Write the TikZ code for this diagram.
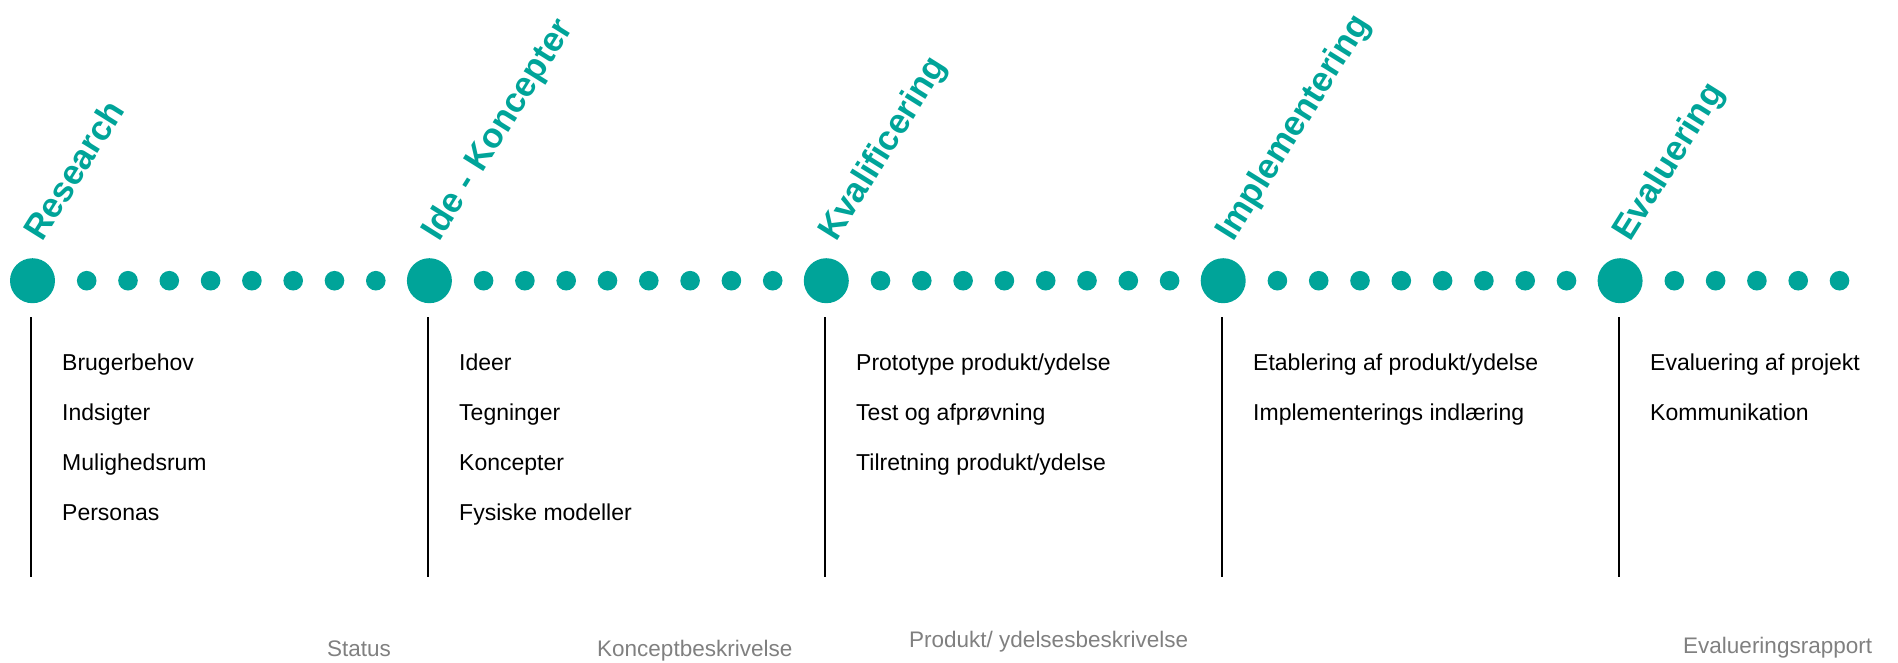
\documentclass[tikz,border=0pt]{standalone}
\usepackage{fontspec}
\setmainfont{Liberation Sans}
\definecolor{phaseteal}{RGB}{0,164,153}
\definecolor{outgray}{RGB}{128,128,128}
\begin{document}
\begin{tikzpicture}[x=1pt,y=-1pt,
  bigdot/.style={circle,fill=phaseteal,inner sep=0pt,minimum size=45pt},
  smalldot/.style={circle,fill=phaseteal,inner sep=0pt,minimum size=19.6pt},
  phase/.style={rotate=58,anchor=base west,inner sep=0pt,text=phaseteal,
    font=\fontsize{34.8}{40}\selectfont\bfseries},
  item/.style={anchor=base west,inner sep=0pt,font=\fontsize{23}{28}\selectfont},
  deliverable/.style={anchor=base west,inner sep=0pt,text=outgray,
    font=\fontsize{22.5}{27}\selectfont},
  rule/.style={line width=1.8pt}]
\useasboundingbox (0,0) rectangle (1898,662);

% phase markers and their vertical rules
\foreach \i in {0,...,4}{
  \pgfmathsetmacro\cx{32.5+396.9*\i}
  \node[bigdot] (big\i) at (\cx,280.7) {};
  \coordinate (top\i) at (\cx-1.5,317);
  \coordinate (bot\i) at (\cx-1.5,577);
  \draw[rule] (top\i) -- (bot\i);
}

% small dots between the phases
\foreach \i in {0,...,3}{
  \foreach \k in {0,...,7}{
    \node[smalldot] (dot\i-\k) at (32.5+396.9*\i+54.2+41.3*\k,280.7) {};
  }
}
\foreach \k in {0,...,4}{
  \node[smalldot] (dot4-\k) at (32.5+396.9*4+54.2+41.3*\k,280.7) {};
}

% phase titles
\node[phase] (t0) at (42.5,243) {Research};
\node[phase] (t1) at (439.4,243) {Ide - Koncepter};
\node[phase] (t2) at (836.3,243) {Kvalificering};
\node[phase] (t3) at (1233.2,243) {Implementering};
\node[phase] (t4) at (1630.1,243) {Evaluering};

% activities per phase
\node[item] (a0) at (62,370) {Brugerbehov};
\node[item] (a1) at (62,420) {Indsigter};
\node[item] (a2) at (62,470) {Mulighedsrum};
\node[item] (a3) at (62,520) {Personas};

\node[item] (b0) at (459,370) {Ideer};
\node[item] (b1) at (459,420) {Tegninger};
\node[item] (b2) at (459,470) {Koncepter};
\node[item] (b3) at (459,520) {Fysiske modeller};

\node[item] (c0) at (856,370) {Prototype produkt/ydelse};
\node[item] (c1) at (856,420) {Test og afprøvning};
\node[item] (c2) at (856,470) {Tilretning produkt/ydelse};

\node[item] (d0) at (1253,370) {Etablering af produkt/ydelse};
\node[item] (d1) at (1253,420) {Implementerings indlæring};

\node[item] (e0) at (1650,370) {Evaluering af projekt};
\node[item] (e1) at (1650,420) {Kommunikation};

% deliverables
\node[deliverable] (o0) at (327,656) {Status};
\node[deliverable] (o1) at (597,656) {Konceptbeskrivelse};
\node[deliverable] (o2) at (909,647) {Produkt/ ydelsesbeskrivelse};
\node[deliverable] (o3) at (1683,653) {Evalueringsrapport};
\end{tikzpicture}
\end{document}
